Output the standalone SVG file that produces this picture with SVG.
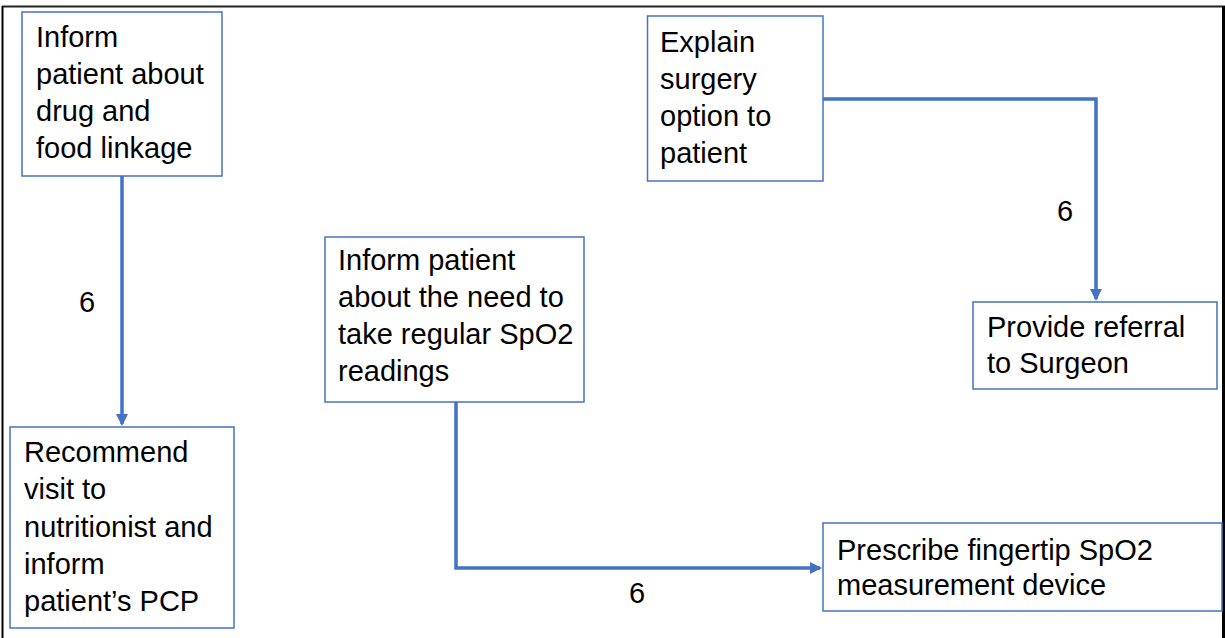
<svg xmlns="http://www.w3.org/2000/svg" width="1225" height="638" viewBox="0 0 1225 638">
<style>
.box{fill:#fff;stroke:#4472C4;stroke-width:1.5}
.t{font-family:"Liberation Sans",Arial,sans-serif;font-size:29px;fill:#000}
.c{fill:none;stroke:#4472C4;stroke-width:3.5}
</style>
<defs>
<marker id="ah" markerWidth="12" markerHeight="12" refX="10" refY="6" orient="auto" markerUnits="userSpaceOnUse">
<path d="M0,0 L12,6 L0,12 Z" fill="#4472C4"/>
</marker>
</defs>
<rect width="1225" height="638" fill="#fff"/>
<g id="frame">
<line x1="2" y1="6.5" x2="1225" y2="6.5" stroke="#222" stroke-width="2"/>
<line x1="2.5" y1="6" x2="2.5" y2="638" stroke="#000" stroke-width="2"/>
<line x1="1223.5" y1="6" x2="1223.5" y2="638" stroke="#000" stroke-width="3"/>
</g>
<g id="connectors">
<path class="c" d="M122,176 V424" marker-end="url(#ah)"/>
<path class="c" d="M823,99 H1096 V299" marker-end="url(#ah)"/>
<path class="c" d="M456,402 V568 H820" marker-end="url(#ah)"/>
<text class="t" x="87" y="312" text-anchor="middle">6</text>
<text class="t" x="1065" y="221" text-anchor="middle">6</text>
<text class="t" x="637" y="603" text-anchor="middle">6</text>
</g>
<g id="n1">
<rect class="box" x="22" y="12" width="200" height="164"/>
<text class="t" x="36" y="47">Inform</text>
<text class="t" x="36" y="84">patient about</text>
<text class="t" x="36" y="121">drug and</text>
<text class="t" x="36" y="158">food linkage</text>
</g>
<g id="n2">
<rect class="box" x="10" y="427" width="224" height="201"/>
<text class="t" x="24" y="462">Recommend</text>
<text class="t" x="24" y="499">visit to</text>
<text class="t" x="24" y="537">nutritionist and</text>
<text class="t" x="24" y="574">inform</text>
<text class="t" x="24" y="611">patient’s PCP</text>
</g>
<g id="n3">
<rect class="box" x="647.5" y="16" width="175.5" height="165"/>
<text class="t" x="660" y="52">Explain</text>
<text class="t" x="660" y="89">surgery</text>
<text class="t" x="660" y="126">option to</text>
<text class="t" x="660" y="163">patient</text>
</g>
<g id="n4">
<rect class="box" x="973" y="302" width="244" height="87"/>
<text class="t" x="987" y="337">Provide referral</text>
<text class="t" x="987" y="373">to Surgeon</text>
</g>
<g id="n5">
<rect class="box" x="325" y="237" width="259" height="165"/>
<text class="t" x="338" y="270">Inform patient</text>
<text class="t" x="338" y="307">about the need to</text>
<text class="t" x="338" y="344">take regular SpO2</text>
<text class="t" x="338" y="381">readings</text>
</g>
<g id="n6">
<rect class="box" x="823" y="523" width="399" height="88"/>
<text class="t" x="837" y="560">Prescribe fingertip SpO2</text>
<text class="t" x="837" y="595">measurement device</text>
</g>
</svg>
